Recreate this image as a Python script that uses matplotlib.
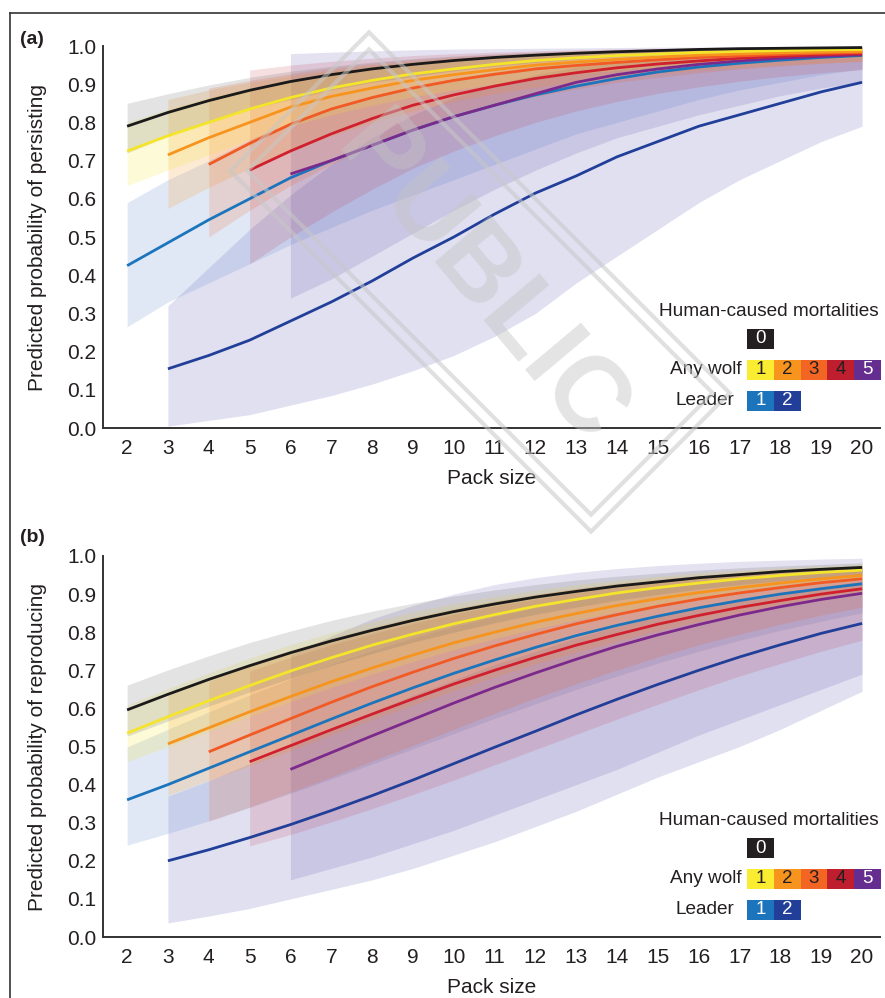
import numpy as np
import matplotlib
matplotlib.use("Agg")
from matplotlib import pyplot as plt
from matplotlib.patches import Rectangle, Polygon
from matplotlib.lines import Line2D

plt.rcParams['font.family'] = ['Liberation Sans', 'DejaVu Sans']

# pack sizes
pack = [2, 3, 4, 5, 6, 7, 8, 9, 10, 11, 12, 13, 14, 15, 16, 17, 18, 19, 20]
yticks = [0.0, 0.1, 0.2, 0.3, 0.4, 0.5, 0.6, 0.7, 0.8, 0.9, 1.0]

# ---- (a) persisting ----
a_m0 = [.79, .826, .857, .884, .907, .925, .94, .952, .962, .97, .976, .981, .985, .988, .991, .993, .994, .995, .996]
a_m0_lo = [.72, .765, .80, .835, .86, .885, .905, .92, .935, .947, .957, .965, .972, .977, .981, .985, .988, .99, .992]
a_m0_hi = [.85, .875, .898, .918, .934, .947, .958, .967, .974, .979, .984, .987, .99, .992, .994, .995, .996, .997, .998]

a_m1 = [.725, .765, .80, .835, .865, .89, .91, .927, .94, .952, .962, .969, .975, .979, .983, .986, .988, .99, .991]
a_m1_lo = [.635, .675, .715, .755, .79, .82, .845, .867, .885, .90, .915, .927, .937, .945, .952, .958, .963, .967, .97]
a_m1_hi = [.80, .835, .865, .89, .912, .93, .945, .956, .965, .972, .978, .983, .987, .99, .992, .994, .995, .996, .997]

a_m2 = [.715, .76, .80, .84, .868, .89, .91, .925, .938, .95, .958, .965, .971, .976, .979, .982, .984, .986]
a_m2_lo = [.575, .63, .68, .725, .765, .80, .83, .855, .875, .892, .906, .918, .928, .937, .944, .95, .955, .96]
a_m2_hi = [.86, .885, .905, .922, .937, .95, .96, .968, .975, .98, .984, .987, .99, .992, .994, .995, .996, .997]

a_m3 = [.69, .745, .795, .835, .865, .89, .91, .926, .94, .949, .957, .964, .97, .974, .978, .981, .983]
a_m3_lo = [.50, .57, .635, .69, .74, .78, .815, .845, .868, .888, .905, .918, .93, .94, .948, .955, .96]
a_m3_hi = [.89, .91, .928, .943, .955, .965, .972, .978, .983, .987, .99, .992, .994, .995, .996, .997, .997]

a_m4 = [.675, .725, .77, .81, .845, .872, .895, .915, .93, .943, .953, .961, .968, .973, .977, .98]
a_m4_lo = [.43, .50, .565, .625, .68, .725, .765, .80, .83, .855, .876, .893, .908, .92, .93, .938]
a_m4_hi = [.937, .95, .96, .968, .975, .98, .984, .987, .99, .992, .994, .995, .996, .997, .997, .998]

a_m5 = [.665, .70, .74, .78, .815, .845, .875, .905, .925, .94, .952, .961, .968, .973, .977]
a_m5_lo = [.34, .39, .45, .51, .57, .625, .675, .72, .76, .79, .82, .845, .87, .89, .905]
a_m5_hi = [.98, .984, .987, .99, .992, .993, .994, .995, .996, .997, .997, .998, .998, .998, .999]

a_l1 = [.425, .485, .545, .60, .655, .70, .74, .78, .815, .845, .872, .895, .915, .932, .945, .955, .963, .97, .975]
a_l1_lo = [.265, .33, .38, .43, .48, .525, .57, .61, .65, .69, .73, .77, .80, .83, .86, .885, .905, .925, .94]
a_l1_hi = [.59, .65, .70, .755, .80, .84, .87, .895, .915, .932, .946, .957, .966, .973, .979, .983, .986, .989, .991]

a_l2 = [.155, .19, .23, .28, .33, .385, .445, .50, .56, .615, .66, .71, .75, .79, .82, .85, .88, .905]
a_l2_lo = [.005, .02, .035, .06, .085, .115, .15, .19, .24, .30, .38, .45, .52, .59, .65, .70, .75, .79]
a_l2_hi = [.32, .42, .52, .61, .69, .76, .82, .865, .90, .925, .945, .96, .97, .977, .982, .986, .989, .991]

# ---- (b) reproducing ----
b_m0 = [.596, .637, .676, .712, .746, .777, .805, .831, .854, .874, .892, .907, .921, .932, .943, .951, .959, .965, .970]
b_m0_lo = [.527, .567, .606, .643, .679, .713, .744, .774, .80, .825, .847, .866, .884, .899, .913, .925, .935, .944, .952]
b_m0_hi = [.661, .701, .738, .773, .803, .831, .855, .876, .895, .911, .925, .937, .947, .955, .963, .969, .974, .978, .982]

b_m1 = [.535, .578, .62, .66, .698, .733, .766, .795, .822, .846, .868, .886, .903, .917, .929, .94, .949, .957, .963]
b_m1_lo = [.46, .50, .54, .579, .618, .655, .69, .723, .754, .783, .809, .832, .853, .872, .889, .904, .917, .928, .938]
b_m1_hi = [.608, .652, .693, .732, .767, .799, .827, .853, .875, .894, .91, .925, .937, .947, .956, .963, .969, .974, .979]

b_m2 = [.507, .549, .591, .631, .67, .706, .74, .772, .80, .826, .849, .87, .888, .904, .917, .929, .94, .949]
b_m2_lo = [.372, .411, .45, .49, .531, .571, .609, .647, .683, .717, .748, .777, .804, .828, .85, .869, .887, .902]
b_m2_hi = [.641, .681, .718, .753, .785, .813, .839, .862, .882, .899, .914, .927, .938, .948, .956, .963, .969, .974]

b_m3 = [.486, .53, .573, .616, .657, .695, .731, .764, .794, .822, .846, .868, .887, .903, .917, .93, .94]
b_m3_lo = [.304, .341, .38, .42, .462, .503, .545, .587, .627, .665, .701, .735, .767, .795, .821, .845, .866]
b_m3_hi = [.671, .711, .747, .78, .81, .837, .86, .881, .899, .915, .928, .939, .949, .957, .964, .97, .975]

b_m4 = [.46, .502, .544, .585, .625, .664, .70, .734, .766, .794, .821, .844, .865, .883, .90, .914]
b_m4_lo = [.239, .269, .302, .337, .374, .412, .452, .492, .532, .572, .611, .649, .685, .718, .75, .779]
b_m4_hi = [.698, .734, .767, .796, .823, .847, .869, .887, .904, .918, .93, .941, .95, .957, .964, .97]

b_m5 = [.44, .484, .528, .571, .614, .655, .693, .729, .763, .793, .82, .845, .867, .886, .902]
b_m5_lo = [.15, .18, .21, .245, .28, .32, .36, .40, .44, .485, .53, .57, .61, .65, .69]
b_m5_hi = [.74, .79, .835, .87, .90, .925, .943, .957, .967, .975, .981, .986, .989, .992, .994]

b_l1 = [.36, .40, .443, .486, .529, .572, .614, .654, .692, .727, .76, .791, .818, .842, .864, .883, .90, .914, .927]
b_l1_lo = [.241, .272, .305, .34, .377, .415, .454, .494, .534, .574, .612, .65, .685, .719, .75, .779, .805, .829, .851]
b_l1_hi = [.499, .545, .591, .635, .677, .716, .752, .785, .815, .841, .864, .885, .903, .918, .931, .942, .951, .959, .966]

b_l2 = [.20, .229, .261, .295, .332, .371, .412, .455, .498, .54, .583, .624, .663, .70, .735, .767, .797, .823]
b_l2_lo = [.037, .055, .075, .10, .125, .15, .18, .215, .25, .29, .33, .375, .42, .46, .50, .545, .595, .645]
b_l2_hi = [.37, .41, .455, .50, .545, .59, .635, .675, .715, .75, .785, .815, .84, .865, .885, .905, .92, .935]

# colours
line_cols = {'m0': '#1a1a1a', 'm1': '#f4e42a', 'm2': '#f7941d', 'm3': '#f15a24',
             'm4': '#d0202e', 'm5': '#7b2a8c', 'l1': '#1c75bc', 'l2': '#213f99'}
band_cols = {'m0': ('#666666', .18), 'm1': ('#f5e62a', .18), 'm2': ('#f7941d', .19),
             'm3': ('#f15a24', .17), 'm4': ('#be1e2d', .14), 'm5': ('#5a4aa8', .16),
             'l1': ('#6a8fd0', .2), 'l2': ('#4a48b0', .17)}
key_cols = {'m0': '#231f20', 'm1': '#f9ec31', 'm2': '#f7941d', 'm3': '#f26522',
            'm4': '#be1e2d', 'm5': '#662d91', 'l1': '#1c75bc', 'l2': '#213f99'}

fig = plt.figure(figsize=(8.85, 9.98), dpi=100)
ax1 = fig.add_axes([0.1164, 0.5711, 0.878, 0.3828])
ax2 = fig.add_axes([0.1164, 0.0611, 0.878, 0.3818])


def draw_panel(ax, series):
    for key, xs, y, lo, hi in series:
        c, a = band_cols[key]
        ax.fill_between(xs, lo, hi, color=c, alpha=a, linewidth=0)
        ax.plot(xs, y, color=line_cols[key], lw=2.0, solid_capstyle='butt')


def setup(ax, ylabel):
    ax.set_xlim(1.41, 20.44)
    ax.set_ylim(0, 1)
    ax.set_xticks(pack)
    ax.set_yticks(yticks)
    ax.set_yticklabels(['%.1f' % v for v in yticks])
    ax.tick_params(length=0, labelsize=15, colors='#231f20')
    ax.tick_params(axis='x', pad=8)
    ax.tick_params(axis='y', pad=5)
    for s in ['top', 'right']:
        ax.spines[s].set_visible(False)
    for s in ['left', 'bottom']:
        ax.spines[s].set_linewidth(1.4)
        ax.spines[s].set_color('#333333')
    ax.set_xlabel('Pack size', fontsize=15, labelpad=8, color='#231f20')
    ax.set_ylabel(ylabel, fontsize=15, labelpad=14, color='#231f20')


def draw_key(ax):
    tr = ax.transAxes
    w, h = 0.0344, 0.053
    x0 = 0.829
    ax.text(0.857, 0.305, 'Human-caused mortalities', transform=tr, ha='center',
            va='center', fontsize=13.7, color='#231f20')
    rows = [(0.207, ['m0'], ['0'], ['white']),
            (0.126, ['m1', 'm2', 'm3', 'm4', 'm5'], ['1', '2', '3', '4', '5'],
             ['#231f20', '#231f20', '#231f20', '#231f20', 'white']),
            (0.045, ['l1', 'l2'], ['1', '2'], ['white', 'white'])]
    for yb, keys, labs, tcols in rows:
        for i, (k, lab, tc) in enumerate(zip(keys, labs, tcols)):
            ax.add_patch(Rectangle((x0 + i * w, yb), w, h, transform=tr,
                                   facecolor=key_cols[k], edgecolor='none', clip_on=False))
            ax.text(x0 + (i + 0.5) * w, yb + h / 2, lab, transform=tr, ha='center',
                    va='center', fontsize=13.5, color=tc)
    ax.text(0.822, 0.126 + h / 2, 'Any wolf', transform=tr, ha='right', va='center',
            fontsize=13.7, color='#231f20')
    ax.text(0.813, 0.045 + h / 2, 'Leader', transform=tr, ha='right', va='center',
            fontsize=13.7, color='#231f20')


draw_panel(ax1, [
    ('l2', pack[1:], a_l2, a_l2_lo, a_l2_hi),
    ('l1', pack, a_l1, a_l1_lo, a_l1_hi),
    ('m5', pack[4:], a_m5, a_m5_lo, a_m5_hi),
    ('m4', pack[3:], a_m4, a_m4_lo, a_m4_hi),
    ('m3', pack[2:], a_m3, a_m3_lo, a_m3_hi),
    ('m2', pack[1:], a_m2, a_m2_lo, a_m2_hi),
    ('m1', pack, a_m1, a_m1_lo, a_m1_hi),
    ('m0', pack, a_m0, a_m0_lo, a_m0_hi),
])
draw_panel(ax2, [
    ('l2', pack[1:], b_l2, b_l2_lo, b_l2_hi),
    ('l1', pack, b_l1, b_l1_lo, b_l1_hi),
    ('m5', pack[4:], b_m5, b_m5_lo, b_m5_hi),
    ('m4', pack[3:], b_m4, b_m4_lo, b_m4_hi),
    ('m3', pack[2:], b_m3, b_m3_lo, b_m3_hi),
    ('m2', pack[1:], b_m2, b_m2_lo, b_m2_hi),
    ('m1', pack, b_m1, b_m1_lo, b_m1_hi),
    ('m0', pack, b_m0, b_m0_lo, b_m0_hi),
])

setup(ax1, 'Predicted probability of persisting')
setup(ax2, 'Predicted probability of reproducing')
draw_key(ax1)
draw_key(ax2)

fig.text(20 / 885, 1 - 40 / 998, '(a)', fontsize=14, fontweight='bold', va='center', color='#231f20')
fig.text(20 / 885, 1 - 538 / 998, '(b)', fontsize=14, fontweight='bold', va='center', color='#231f20')

# outer frame
fig.add_artist(Line2D([10 / 885, 10 / 885], [0, 1 - 13 / 998], transform=fig.transFigure,
                      color='#333333', lw=1.2))
fig.add_artist(Line2D([10 / 885, 1], [1 - 13 / 998, 1 - 13 / 998], transform=fig.transFigure,
                      color='#333333', lw=1.2))

# "PUBLIC" watermark
W, H = 885.0, 998.0
cx, cy = 480.0, 282.0
ang = np.deg2rad(45)
u = np.array([np.cos(ang), np.sin(ang)])
v = np.array([-np.sin(ang), np.cos(ang)])
for hl, hw in [(255, 98), (243, 86)]:
    pts = []
    for su, sv in [(-1, -1), (-1, 1), (1, 1), (1, -1)]:
        p = np.array([cx, cy]) + su * hl * u + sv * hw * v
        pts.append([p[0] / W, 1 - p[1] / H])
    fig.add_artist(Polygon(pts, closed=True, fill=False, edgecolor='#c8c8c8', lw=3,
                           alpha=0.55, transform=fig.transFigure, zorder=10))
fig.text(cx / W, 1 - cy / H, 'PUBLIC', rotation=-50, rotation_mode='anchor', ha='center',
         va='center', fontsize=76, fontweight='bold', color='#c4c4c4', alpha=0.45, zorder=10)

fig.savefig('out.png', dpi=100)
